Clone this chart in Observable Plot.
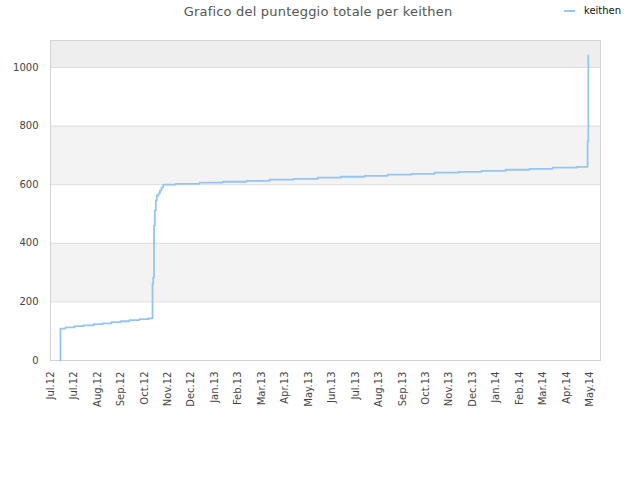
<!DOCTYPE html>
<html>
<head>
<meta charset="utf-8">
<script src="https://cdn.jsdelivr.net/npm/d3@7"></script>
<script src="https://cdn.jsdelivr.net/npm/@observablehq/plot@0.6"></script>
<style>
  html, body { margin: 0; padding: 0; background: #fff; }
  #wrap { position: relative; width: 640px; height: 480px; font-family: "DejaVu Sans", sans-serif; }
  #title { position: absolute; left: 0; width: 636px; top: 4px; text-align: center; font-size: 13px; letter-spacing: 0.2px; color: #555; }
  #legend { position: absolute; left: 564px; top: 5px; font-size: 10px; color: #111; display: flex; align-items: center; }
  #legend .sw { width: 11px; height: 2px; background: #95c5f4; margin-right: 9px; }
  #chart { position: absolute; left: 0; top: 0; }
</style>
</head>
<body>
<div id="wrap">
  <div id="chart"></div>
  <div id="title">Grafico del punteggio totale per keithen</div>
  <div id="legend"><span class="sw"></span><span>keithen</span></div>
</div>
<script>
// x positions (month index along the axis) and cumulative score values
const xs = [0.420, 0.426, 0.640, 1.023, 1.407, 1.834, 2.217, 2.601, 2.985, 3.369, 3.795, 4.179,
            4.350, 4.380, 4.414, 4.448, 4.490, 4.533, 4.606, 4.661, 4.733, 4.806,
            5.330, 6.354, 7.335, 8.358, 9.339, 10.362, 11.386, 12.367, 13.390, 14.371,
            15.394, 16.375, 17.399, 18.380, 19.403, 20.426, 21.407, 22.431, 22.900, 22.930];
const scores = [0, 109, 113, 117, 120, 124, 127, 131, 134, 138, 141, 144,
                262, 284, 461, 512, 546, 563, 570, 580, 591, 600,
                603, 607, 610, 613, 617, 620, 624, 627, 630, 634,
                637, 641, 644, 647, 651, 654, 658, 661, 749, 1041];
const xLabels = ["Jul.12","Jul.12","Aug.12","Sep.12","Oct.12","Nov.12","Dec.12","Jan.13","Feb.13","Mar.13","Apr.13","May.13",
                 "Jun.13","Jul.13","Aug.13","Sep.13","Oct.13","Nov.13","Dec.13","Jan.14","Feb.14","Mar.14","Apr.14","May.14"];
const yTicks = [0, 200, 400, 600, 800, 1000];
const bandStarts = [200, 600, 1000];

const data = xs.map((x, i) => ({x, y: scores[i]}));
const xTicks = xLabels.map((_, i) => i);

const chart = Plot.plot({
  width: 640,
  height: 480,
  marginTop: 40,
  marginBottom: 120,
  marginLeft: 50,
  marginRight: 40,
  style: {fontFamily: "DejaVu Sans, sans-serif", fontSize: "10px", color: "#444", background: "transparent"},
  x: {domain: [0, 23.45], label: null},
  y: {domain: [0, 1092], label: null},
  marks: [
    Plot.rect(bandStarts, {y1: d => d, y2: d => Math.min(d + 200, 1092), fill: d => d >= 1000 ? "#eeeeee" : "#f3f3f3"}),
    Plot.ruleY(yTicks.filter(d => d > 0), {stroke: "#dedede", strokeWidth: 1}),
    Plot.frame({stroke: "#d4d4d4", strokeWidth: 1}),
    Plot.line(data, {x: "x", y: "y", curve: "step-after", stroke: "#95c5f4", strokeWidth: 1.8}),
    Plot.axisY({ticks: yTicks, tickSize: 0, tickPadding: 12, tickFormat: d => String(d), label: null}),
    Plot.axisX({ticks: xTicks, tickFormat: i => xLabels[i], tickRotate: -90, tickSize: 0, tickPadding: 11, label: null})
  ]
});
document.getElementById("chart").appendChild(chart);
</script>
</body>
</html>
